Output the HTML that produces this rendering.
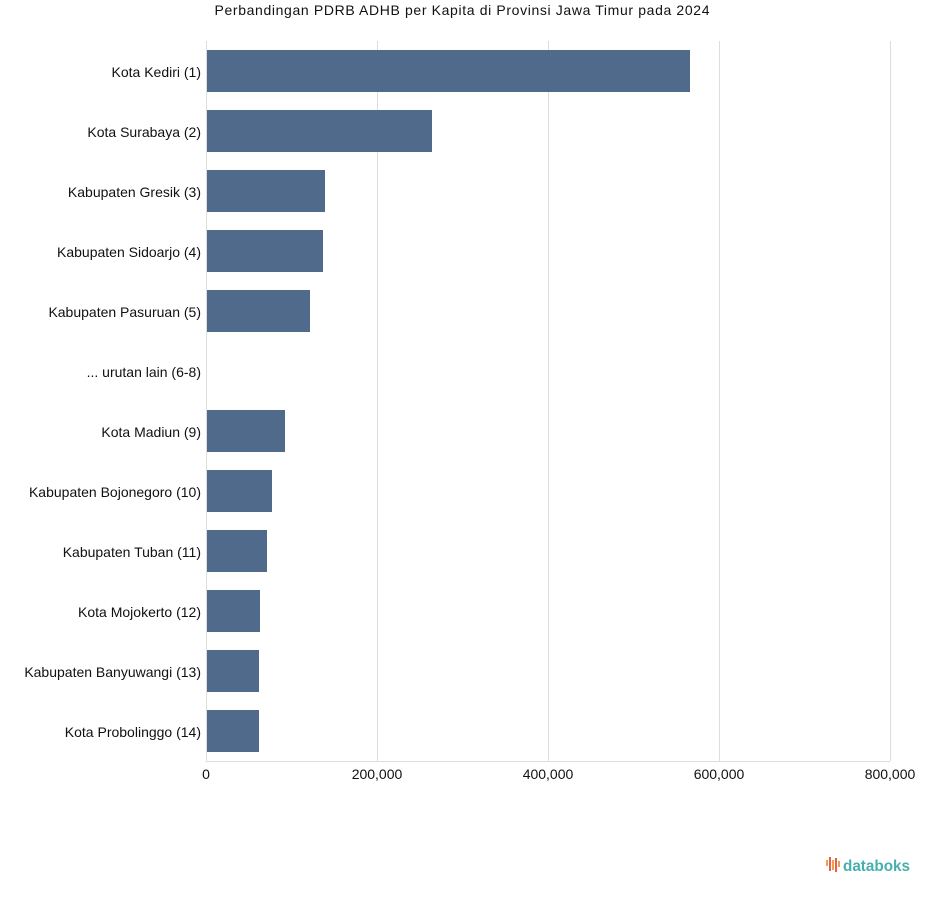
<!DOCTYPE html><html><head><style>body{margin:0;background:#fff}</style></head><body>
<svg width="925" height="894" xmlns="http://www.w3.org/2000/svg" font-family="Liberation Sans, sans-serif">
<text x="462" y="15" text-anchor="middle" font-size="14" fill="#111" textLength="495" lengthAdjust="spacing">Perbandingan PDRB ADHB per Kapita di Provinsi Jawa Timur pada 2024</text>
<g stroke="#ddd" stroke-width="1">
<line x1="377.5" y1="41" x2="377.5" y2="761"/><line x1="548.5" y1="41" x2="548.5" y2="761"/><line x1="719.5" y1="41" x2="719.5" y2="761"/><line x1="890.5" y1="41" x2="890.5" y2="761"/>
<line x1="206" y1="761.5" x2="890" y2="761.5"/><line x1="206.5" y1="41" x2="206.5" y2="761"/>
</g>
<g fill="#4f6a8b">
<rect x="207" y="50" width="483" height="42"/>
<rect x="207" y="110" width="225" height="42"/>
<rect x="207" y="170" width="118" height="42"/>
<rect x="207" y="230" width="116" height="42"/>
<rect x="207" y="290" width="103" height="42"/>
<rect x="207" y="410" width="78" height="42"/>
<rect x="207" y="470" width="65" height="42"/>
<rect x="207" y="530" width="60" height="42"/>
<rect x="207" y="590" width="53" height="42"/>
<rect x="207" y="650" width="52" height="42"/>
<rect x="207" y="710" width="52" height="42"/>
</g>
<g font-size="14" fill="#111" text-anchor="end">
<text x="201" y="77">Kota Kediri (1)</text>
<text x="201" y="137">Kota Surabaya (2)</text>
<text x="201" y="197">Kabupaten Gresik (3)</text>
<text x="201" y="257">Kabupaten Sidoarjo (4)</text>
<text x="201" y="317">Kabupaten Pasuruan (5)</text>
<text x="201" y="377">... urutan lain (6-8)</text>
<text x="201" y="437">Kota Madiun (9)</text>
<text x="201" y="497">Kabupaten Bojonegoro (10)</text>
<text x="201" y="557">Kabupaten Tuban (11)</text>
<text x="201" y="617">Kota Mojokerto (12)</text>
<text x="201" y="677">Kabupaten Banyuwangi (13)</text>
<text x="201" y="737">Kota Probolinggo (14)</text>
</g>
<g font-size="14" fill="#111" text-anchor="middle">
<text x="206" y="779">0</text><text x="377" y="779">200,000</text><text x="548" y="779">400,000</text><text x="719" y="779">600,000</text><text x="890" y="779">800,000</text>
</g>
<g>
<rect x="826" y="860" width="2" height="6" fill="#f0a04b"/>
<rect x="829" y="857" width="2" height="14" fill="#e8604c"/>
<rect x="832" y="860" width="2" height="10" fill="#f0a04b"/>
<rect x="835" y="858" width="2" height="14" fill="#e8604c"/>
<rect x="838" y="861" width="2" height="6" fill="#f0a04b"/>
<text x="843" y="871" font-size="16" fill="#45b0ad" font-weight="bold" textLength="67" lengthAdjust="spacingAndGlyphs">databoks</text>
</g>
</svg></body></html>
